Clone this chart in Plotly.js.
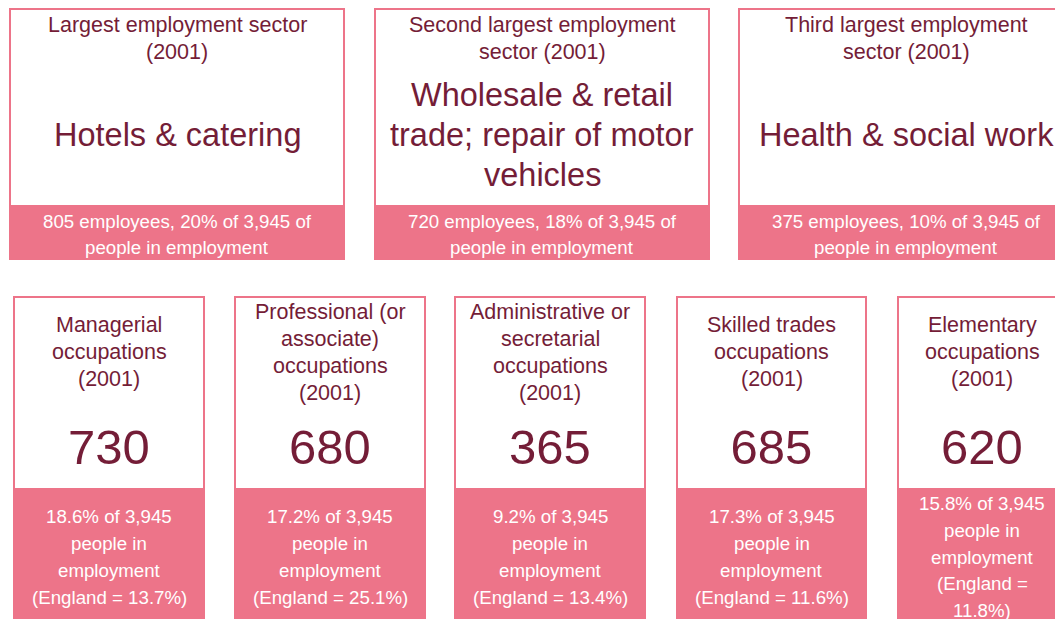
<!DOCTYPE html>
<html><head><meta charset="utf-8">
<script src="https://cdn.plot.ly/plotly-3.0.1.min.js"></script>
<style>html,body{margin:0;padding:0;background:#fff;}#chart{width:1055px;height:619px;}</style>
</head><body><div id="chart"></div>
<script>
// ---- data ----
const totalEmployed = 3945;
const sectorRanks = ["Largest employment sector<br>(2001)", "Second largest employment<br>sector (2001)", "Third largest employment<br>sector (2001)"];
const sectorNames = ["Hotels & catering", "Wholesale & retail<br>trade; repair of motor<br>vehicles", "Health & social work"];
const sectorEmployees = [805, 720, 375];
const sectorShares = [20, 18, 10];
const occupations = ["Managerial<br>occupations<br>(2001)", "Professional (or<br>associate)<br>occupations<br>(2001)", "Administrative or<br>secretarial<br>occupations<br>(2001)", "Skilled trades<br>occupations<br>(2001)", "Elementary<br>occupations<br>(2001)"];
const occupationCounts = [730, 680, 365, 685, 620];
const occupationShares = [18.6, 17.2, 9.2, 17.3, 15.8];
const englandShares = [13.7, 25.1, 13.4, 11.6, 11.8];

// ---- layout constants ----
const PINK = "rgb(237,116,137)";
const MAROON = "rgb(116,29,55)";
const FONT = "Liberation Sans, Arial, sans-serif";
const topCards = [[10, 344], [375, 709], [739, 1073]];
const topY = {top: 9, foot: 205, bottom: 259};
const botCards = [[14, 204], [235, 425], [455, 645], [677, 866], [898, 1066]];
const botY = {top: 297, foot: 488, bottom: 619};
const fmt = n => n.toLocaleString("en-US");

const shapes = [], annotations = [];
function card(x0, x1, y) {
  shapes.push({type: "rect", xref: "x", yref: "y", x0: x0, x1: x1, y0: y.top, y1: y.bottom,
    fillcolor: "#fff", line: {color: PINK, width: 2}, layer: "below"});
  shapes.push({type: "rect", xref: "x", yref: "y", x0: x0 - 1, x1: x1 + 1, y0: y.foot, y1: y.bottom,
    fillcolor: PINK, line: {width: 0}, layer: "below"});
}
function lines(text, xc, yc, lh, size, color) {
  const parts = text.split("<br>");
  parts.forEach((p, i) => {
    annotations.push({xref: "x", yref: "y", x: xc, y: yc + (i - (parts.length - 1) / 2) * lh,
      text: p, showarrow: false, xanchor: "center", yanchor: "middle",
      font: {family: FONT, size: size, color: color}});
  });
}

topCards.forEach((c, i) => {
  card(c[0], c[1], topY);
  const xc = (c[0] + c[1]) / 2;
  lines(sectorRanks[i], xc, 38.5, 27, 21.5, MAROON);
  lines(sectorNames[i], xc, 135, 40, 32.5, MAROON);
  const foot = sectorEmployees[i] + " employees, " + sectorShares[i] + "% of " + fmt(totalEmployed) + " of<br>people in employment";
  lines(foot, xc, 234, 26, 18.7, "#fff");
});

const numX = [];
botCards.forEach((c, i) => {
  card(c[0], c[1], botY);
  const xc = i === botCards.length - 1 ? 982 : (c[0] + c[1]) / 2;
  numX.push(xc);
  lines(occupations[i], xc, 352, 27, 21.5, MAROON);
  const narrow = (c[1] - c[0]) < 180;
  const eng = narrow ? "(England =<br>" + englandShares[i] + "%)" : "(England = " + englandShares[i] + "%)";
  const foot = occupationShares[i] + "% of " + fmt(totalEmployed) + "<br>people in<br>employment<br>" + eng;
  lines(foot, xc, 557, 26.7, 18.7, "#fff");
});

const traces = [{
  type: "scatter", mode: "text", x: numX, y: occupationCounts.map(() => 452),
  text: occupationCounts.map(String), textposition: "middle center",
  textfont: {family: FONT, size: 49, color: MAROON}, hoverinfo: "skip", showlegend: false
}];

const layout = {
  width: 1055, height: 619, margin: {l: 0, r: 0, t: 0, b: 0},
  paper_bgcolor: "#fff", plot_bgcolor: "#fff", showlegend: false,
  xaxis: {range: [0, 1055], visible: false, fixedrange: true},
  yaxis: {range: [619, 0], visible: false, fixedrange: true},
  shapes: shapes, annotations: annotations
};
Plotly.newPlot("chart", traces, layout, {displayModeBar: false, staticPlot: true});
</script></body></html>
